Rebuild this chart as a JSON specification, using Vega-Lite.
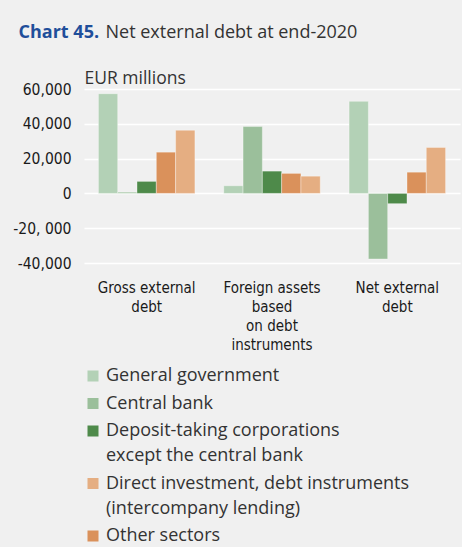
{
  "$schema": "https://vega.github.io/schema/vega-lite/v6.json",
  "autosize": "none",
  "width": 376,
  "height": 174,
  "padding": {"left": 84, "top": 89, "right": 2, "bottom": 284},
  "background": "#f0f0f0",
  "data": {
    "values": [
      {"category": "Gross external debt", "sector": "General government", "value": 57300},
      {"category": "Gross external debt", "sector": "Central bank", "value": 700},
      {"category": "Gross external debt", "sector": "Deposit-taking corporations except the central bank", "value": 6900},
      {"category": "Gross external debt", "sector": "Other sectors", "value": 23700},
      {"category": "Gross external debt", "sector": "Direct investment, debt instruments (intercompany lending)", "value": 36300},
      {"category": "Foreign assets based on debt instruments", "sector": "General government", "value": 4400},
      {"category": "Foreign assets based on debt instruments", "sector": "Central bank", "value": 38400},
      {"category": "Foreign assets based on debt instruments", "sector": "Deposit-taking corporations except the central bank", "value": 12800},
      {"category": "Foreign assets based on debt instruments", "sector": "Other sectors", "value": 11500},
      {"category": "Foreign assets based on debt instruments", "sector": "Direct investment, debt instruments (intercompany lending)", "value": 9900},
      {"category": "Net external debt", "sector": "General government", "value": 52900},
      {"category": "Net external debt", "sector": "Central bank", "value": -37700},
      {"category": "Net external debt", "sector": "Deposit-taking corporations except the central bank", "value": -5900},
      {"category": "Net external debt", "sector": "Other sectors", "value": 12200},
      {"category": "Net external debt", "sector": "Direct investment, debt instruments (intercompany lending)", "value": 26400}
    ]
  },
  "config": {
    "view": {"stroke": null},
    "axis": {"domain": false, "ticks": false},
    "style": {"guide-label": {"lineHeight": 25}}
  },
  "resolve": {"axis": {"x": "independent", "y": "independent"}},
  "layer": [
    {
      "mark": {"type": "bar", "stroke": "#ffffff", "strokeOpacity": 0.35, "strokeWidth": 1},
      "encoding": {
        "x": {
          "field": "category",
          "type": "nominal",
          "sort": ["Gross external debt", "Foreign assets based on debt instruments", "Net external debt"],
          "scale": {"paddingInner": 0.23, "paddingOuter": 0.115},
          "axis": {
            "orient": "bottom",
            "title": null,
            "labelAngle": 0,
            "labelFont": "Liberation Sans Narrow, DejaVu Sans Condensed, sans-serif",
            "labelFontSize": 15,
            "labelColor": "#1a1a1a",
            "labelBaseline": "top",
            "labelLineHeight": 19,
            "labelPadding": 17,
            "grid": false,
            "labelExpr": "datum.value == 'Gross external debt' ? ['Gross external', 'debt'] : datum.value == 'Net external debt' ? ['Net external', 'debt'] : ['Foreign assets', 'based', 'on debt', 'instruments']"
          }
        },
        "xOffset": {
          "field": "sector",
          "type": "nominal",
          "sort": ["General government", "Central bank", "Deposit-taking corporations except the central bank", "Other sectors", "Direct investment, debt instruments (intercompany lending)"]
        },
        "y": {
          "field": "value",
          "type": "quantitative",
          "scale": {"domain": [-40000, 60000], "nice": false},
          "axis": {
            "orient": "left",
            "values": [-40000, -20000, 0, 20000, 40000, 60000],
            "grid": true,
            "gridColor": "#ffffff",
            "gridWidth": 1.6,
            "gridOpacity": 1,
            "labelFont": "Liberation Sans Narrow, DejaVu Sans Condensed, sans-serif",
            "labelFontSize": 15.5,
            "labelColor": "#1a1a1a",
            "labelPadding": 13,
            "labelExpr": "datum.value == -20000 ? '-20, 000' : datum.value < 0 ? '-' + format(-datum.value, ',') : format(datum.value, ',')",
            "title": "EUR millions",
            "titleAngle": 0,
            "titleAlign": "left",
            "titleBaseline": "alphabetic",
            "titleX": 0,
            "titleY": -6,
            "titleFont": "Open Sans",
            "titleFontSize": 17.5,
            "titleFontWeight": "normal",
            "titleColor": "#333333"
          }
        },
        "color": {
          "field": "sector",
          "type": "nominal",
          "scale": {
            "domain": ["General government", "Central bank", "Deposit-taking corporations except the central bank", "Direct investment, debt instruments (intercompany lending)", "Other sectors"],
            "range": ["#b3d1b6", "#9bbf9b", "#4e8a4a", "#e5ae82", "#da915b"]
          },
          "legend": {
            "orient": "none",
            "legendX": 0,
            "legendY": 278,
            "direction": "vertical",
            "title": null,
            "padding": 0,
            "symbolType": "square",
            "symbolSize": 121,
            "symbolStrokeWidth": 0,
            "symbolOpacity": 1,
            "labelFont": "Open Sans",
            "labelFontSize": 18,
            "labelColor": "#333333",
            "labelOffset": 4,
            "labelLimit": 400,
            "rowPadding": 9.5,
            "labelExpr": "datum.label == 'Deposit-taking corporations except the central bank' ? ['Deposit-taking corporations', 'except the central bank'] : datum.label == 'Direct investment, debt instruments (intercompany lending)' ? ['Direct investment, debt instruments', '(intercompany lending)'] : datum.label"
          }
        }
      }
    },
    {
      "mark": {"type": "rule", "opacity": 0},
      "encoding": {
        "x": {
          "field": "category",
          "type": "nominal",
          "sort": ["Gross external debt", "Foreign assets based on debt instruments", "Net external debt"],
          "axis": {
            "orient": "top",
            "labels": false,
            "grid": false,
            "title": "Chart 45.",
            "titleAlign": "left",
            "titleAnchor": "start",
            "titleBaseline": "alphabetic",
            "titleX": -66,
            "titleY": -52,
            "titleFont": "Open Sans",
            "titleFontSize": 18,
            "titleFontWeight": "bold",
            "titleColor": "#1f4e9a"
          }
        },
        "y": {
          "datum": 0,
          "type": "quantitative",
          "axis": {
            "orient": "right",
            "labels": false,
            "grid": false,
            "title": "Net external debt at end-2020",
            "titleAngle": 0,
            "titleAlign": "left",
            "titleBaseline": "alphabetic",
            "titleX": -355,
            "titleY": -52,
            "titleFont": "Open Sans",
            "titleFontSize": 18,
            "titleFontWeight": "normal",
            "titleColor": "#333333"
          }
        }
      }
    }
  ]
}
